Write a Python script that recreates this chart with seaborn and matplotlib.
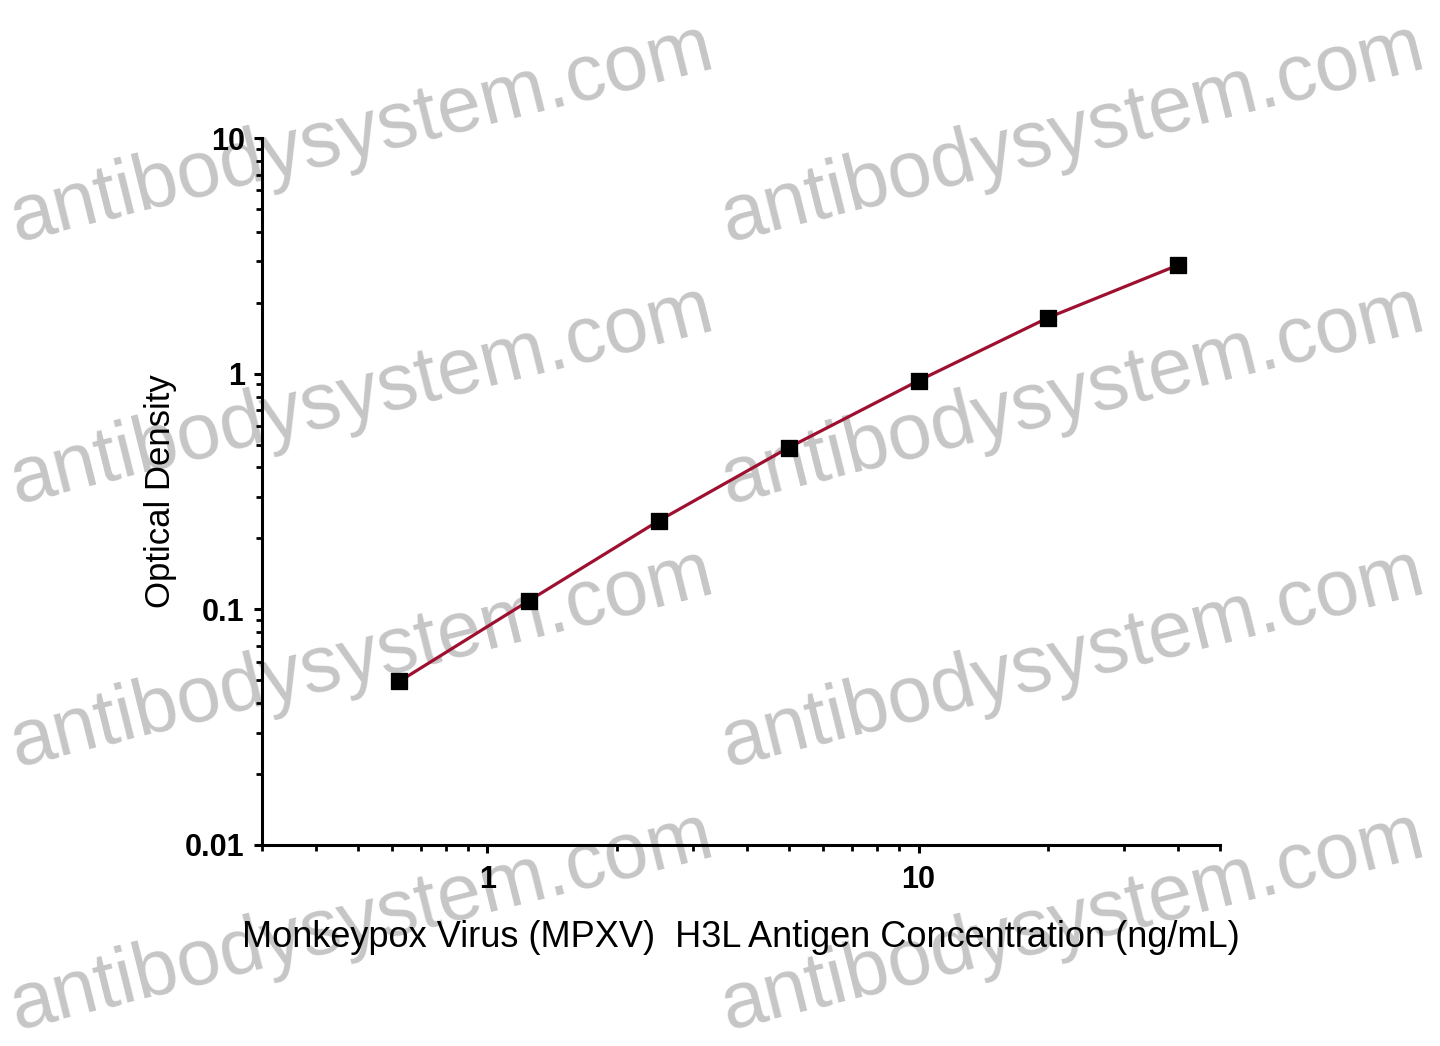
import numpy as np
import pandas as pd
import matplotlib
matplotlib.use("Agg")
import matplotlib.pyplot as plt
import matplotlib.ticker as mticker
import seaborn as sns

# ---- data ----
concentration = [0.625, 1.25, 2.5, 5, 10, 20, 40]
optical_density = [0.0495, 0.109, 0.238, 0.486, 0.934, 1.73, 2.89]
x_ticks = [1, 10]
x_tick_labels = ["1", "10"]
y_ticks = [0.01, 0.1, 1, 10]
y_tick_labels = ["0.01", "0.1", "1", "10"]
x_label = "Monkeypox Virus (MPXV)  H3L Antigen Concentration (ng/mL)"
y_label = "Optical Density"
watermark = "antibodysystem.com"

df = pd.DataFrame({"conc": concentration, "od": optical_density})

sns.set_style("ticks")
plt.rcParams["font.family"] = ["Liberation Sans", "DejaVu Sans"]

W, H = 1440, 1046
fig = plt.figure(figsize=(W / 100, H / 100), dpi=100)
ax = fig.add_axes([262 / W, 1 - 845 / H, (1220 - 262) / W, (845 - 138) / H])
ax.set_facecolor("none")

# watermarks (figure pixel coords of baseline start)
wm_starts = [(17, 242), (17, 504), (17, 767), (17, 1030),
             (728, 242), (728, 504), (728, 767), (728, 1030)]
for (px, py) in wm_starts:
    fig.text(px / W, 1 - py / H, watermark, fontsize=57, color="#c6c6c6",
             rotation=14, rotation_mode="anchor", ha="left", va="baseline",
             zorder=-5)

sns.lineplot(data=df, x="conc", y="od", ax=ax, color="#9e1030", linewidth=2.3,
             zorder=2)
sns.scatterplot(data=df, x="conc", y="od", ax=ax, marker="s", s=140,
                color="black", edgecolor="black", zorder=3)

ax.set_xscale("log")
ax.set_yscale("log")
ax.set_xlim(0.3, 50)
ax.set_ylim(0.01, 10)

ax.xaxis.set_major_locator(mticker.FixedLocator(x_ticks))
ax.xaxis.set_major_formatter(mticker.FixedFormatter(x_tick_labels))
ax.xaxis.set_minor_locator(mticker.LogLocator(base=10, subs=np.arange(2, 10)))
ax.xaxis.set_minor_formatter(mticker.NullFormatter())
ax.yaxis.set_major_locator(mticker.FixedLocator(y_ticks))
ax.yaxis.set_major_formatter(mticker.FixedFormatter(y_tick_labels))
ax.yaxis.set_minor_locator(mticker.LogLocator(base=10, subs=np.arange(2, 10)))
ax.yaxis.set_minor_formatter(mticker.NullFormatter())

sns.despine(ax=ax)
for s in ["left", "bottom"]:
    ax.spines[s].set_linewidth(2.2)
    ax.spines[s].set_color("black")

ax.tick_params(which="major", direction="out", length=5.5, width=2.2,
               labelsize=22, colors="black")
ax.tick_params(axis="x", which="major", pad=9)
ax.tick_params(axis="y", which="major", pad=7)
ax.tick_params(which="minor", direction="out", length=4, width=2.0,
               colors="black")
for lab in ax.get_xticklabels() + ax.get_yticklabels():
    lab.set_fontweight("bold")

ax.set_xlabel(x_label, fontsize=26, labelpad=18, color="black")
ax.set_ylabel(y_label, fontsize=25, labelpad=6, color="black")

fig.savefig("out.png", dpi=100)
